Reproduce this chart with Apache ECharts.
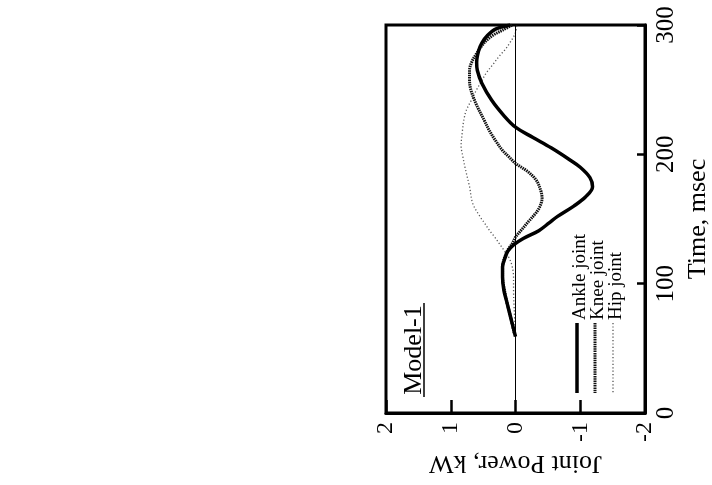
<!DOCTYPE html>
<html>
<head>
<meta charset="utf-8">
<style>
  html, body { margin: 0; padding: 0; background: #fff; }
  #chart { width: 712px; height: 485px; }
</style>
<script src="https://cdn.jsdelivr.net/npm/echarts@6/dist/echarts.min.js"></script>
</head>
<body>
<div id="chart"></div>
<script>
// Joint power during push-off (Model-1), drawn with time running upward.
const seriesNames = ['Ankle joint', 'Knee joint', 'Hip joint'];
const powerTicks = [2, 1, 0, -1, -2];
const timeTicks = [0, 100, 200, 300];

// time (msec) / power (kW) samples for each joint
const ankleTime  = [59, 65, 75, 85, 95, 105, 113, 120, 125, 130, 135, 141, 147, 152, 160, 167, 175, 182, 190, 196, 205, 213, 221, 230, 242, 255, 265, 271, 280, 286, 292, 297, 300];
const anklePower = [0.0, 0.03, 0.08, 0.13, 0.18, 0.2, 0.2, 0.16, 0.12, 0.03, -0.12, -0.36, -0.52, -0.65, -0.9, -1.08, -1.19, -1.15, -1.0, -0.83, -0.55, -0.27, 0.0, 0.18, 0.37, 0.52, 0.59, 0.6, 0.57, 0.52, 0.43, 0.3, 0.08];

const kneeTime  = [62, 75, 85, 95, 105, 113, 120, 126, 131, 136, 142, 148, 155, 160, 166, 172, 180, 187, 193, 198, 203, 210, 218, 226, 238, 250, 258, 265, 272, 278, 284, 288, 292, 296, 300];
const kneePower = [0.02, 0.08, 0.13, 0.17, 0.2, 0.2, 0.17, 0.12, 0.05, 0.0, -0.1, -0.2, -0.32, -0.38, -0.41, -0.39, -0.32, -0.18, 0.0, 0.1, 0.2, 0.3, 0.4, 0.48, 0.6, 0.69, 0.71, 0.71, 0.67, 0.6, 0.52, 0.45, 0.35, 0.2, 0.05];

const hipTime  = [60, 80, 95, 105, 113, 120, 126, 131, 136, 141, 147, 152, 162, 175, 190, 200, 206, 218, 226, 234, 242, 250, 257, 263, 270, 276, 281, 286, 294, 300];
const hipPower = [0.0, 0.02, 0.03, 0.03, 0.05, 0.1, 0.18, 0.25, 0.32, 0.4, 0.48, 0.55, 0.66, 0.71, 0.78, 0.82, 0.84, 0.82, 0.8, 0.76, 0.68, 0.6, 0.52, 0.45, 0.34, 0.25, 0.16, 0.09, 0.0, -0.02];

const pairs = (t, p) => t.map((v, i) => [p[i], v]);

const FONT = '"Liberation Serif", "DejaVu Serif", serif';
const chart = echarts.init(document.getElementById('chart'), null, { renderer: 'canvas' });

const lineStyles = [
  { color: '#000', width: 3.5, type: 'solid' },
  { color: '#111', width: 3, type: [1.5, 0.8] },
  { color: '#555', width: 1.3, type: [1.2, 2.2] }
];

const option = {
  backgroundColor: '#fff',
  animation: false,
  grid: {
    left: 386, right: 66, top: 25, bottom: 72,
    show: true, borderColor: '#000', borderWidth: 3
  },
  xAxis: {
    type: 'value',
    min: -2, max: 2, interval: 1,
    inverse: true,
    position: 'bottom',
    name: 'Joint Power, kW',
    nameLocation: 'middle',
    nameRotate: 180,
    nameGap: 37,
    nameTextStyle: { fontFamily: FONT, fontSize: 26, color: '#000' },
    axisLine: { show: true, onZero: false, lineStyle: { color: '#000', width: 3 } },
    axisTick: { show: true, inside: true, length: 13, lineStyle: { color: '#000', width: 2.5 } },
    axisLabel: {
      rotate: 90, margin: 9,
      fontFamily: FONT, fontSize: 24, color: '#000',
      formatter: v => powerTicks.includes(v) ? String(v) : ''
    },
    splitLine: { show: false }
  },
  yAxis: {
    type: 'value',
    min: 0, max: 300, interval: 100,
    position: 'right',
    name: 'Time, msec',
    nameLocation: 'middle',
    nameRotate: 90,
    nameGap: 40,
    nameTextStyle: { fontFamily: FONT, fontSize: 26, color: '#000' },
    axisLine: { show: true, onZero: false, lineStyle: { color: '#000', width: 3 } },
    axisTick: { show: true, inside: true, length: 8, lineStyle: { color: '#000', width: 2.5 } },
    axisLabel: {
      rotate: 90, margin: 9,
      fontFamily: FONT, fontSize: 25, color: '#000',
      formatter: v => timeTicks.includes(v) ? String(v) : ''
    },
    splitLine: { show: false }
  },
  series: [
    {
      name: seriesNames[2], type: 'line', z: 2,
      data: pairs(hipTime, hipPower),
      smooth: 0.35, symbol: 'none',
      lineStyle: lineStyles[2],
      markLine: {
        silent: true, symbol: 'none', label: { show: false },
        lineStyle: { color: '#000', width: 1, type: 'solid' },
        data: [{ xAxis: 0 }]
      }
    },
    {
      name: seriesNames[1], type: 'line', z: 3,
      data: pairs(kneeTime, kneePower),
      smooth: 0.35, symbol: 'none',
      lineStyle: lineStyles[1]
    },
    {
      name: seriesNames[0], type: 'line', z: 4,
      data: pairs(ankleTime, anklePower),
      smooth: 0.35, symbol: 'none',
      lineStyle: lineStyles[0]
    }
  ],
  graphic: [
    // panel title, written along the time axis and underlined
    {
      type: 'text', x: 414, y: 350, rotation: Math.PI / 2,
      style: { text: 'Model-1', fontFamily: FONT, fontSize: 26, fill: '#000', textAlign: 'center', textVerticalAlign: 'middle' }
    },
    {
      type: 'line', shape: { x1: 424, y1: 303, x2: 424, y2: 397 },
      style: { stroke: '#000', lineWidth: 1.5 }
    },
    // key: one sample stroke and label per joint
    ...seriesNames.map((name, i) => {
      const x = 577 + i * 18;
      return {
        type: 'group',
        children: [
          {
            type: 'line', shape: { x1: x, y1: 323, x2: x, y2: 393 },
            style: {
              stroke: lineStyles[i].color,
              lineWidth: lineStyles[i].width,
              lineDash: Array.isArray(lineStyles[i].type) ? lineStyles[i].type : null
            }
          },
          {
            type: 'text', x: x + 3, y: 320, rotation: Math.PI / 2,
            style: { text: name, fontFamily: FONT, fontSize: 19, fill: '#000', textAlign: 'left', textVerticalAlign: 'middle' }
          }
        ]
      };
    })
  ]
};

chart.setOption(option);
</script>
</body>
</html>
